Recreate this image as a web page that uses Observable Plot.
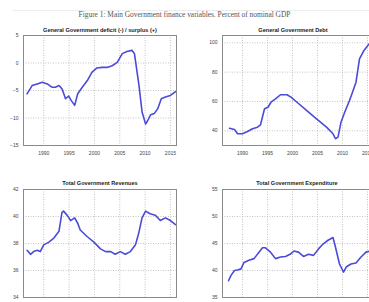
<!DOCTYPE html>
<html><head><meta charset="utf-8">
<script src="https://cdn.jsdelivr.net/npm/d3@7"></script>
<script src="https://cdn.jsdelivr.net/npm/@observablehq/plot@0.6"></script>
<style>
html,body{margin:0;padding:0;background:#fff;width:369px;height:302px;overflow:hidden;position:relative}
.panel{position:absolute}
.panel svg{max-width:none !important}
.ptitle{position:absolute;font:bold 5.6px "Liberation Sans",Arial,sans-serif;color:#222;white-space:nowrap;transform:translate(-50%,-50%)}
#title{position:absolute;top:10px;left:0;width:369px;text-align:center;font:7.4px "Liberation Serif",serif;color:#555;white-space:nowrap}
#rule{position:absolute;top:10px;left:13px;width:356px;height:0;border-top:1px solid #ececec}
</style></head><body>
<div id="rule"></div>
<div id="title">Figure 1: Main Government finance variables. Percent of nominal GDP</div>
<script>
// ---- data ----
const xTicks = [1990, 1995, 2000, 2005, 2010, 2015];

const deficitYears = [1986.7,1987.7,1988.7,1989.7,1990.7,1991.6,1992.3,1993.0,1993.6,1994.3,1994.9,1995.4,1996.1,1996.7,1997.6,1998.6,1999.5,2000.5,2001.5,2002.5,2003.5,2004.5,2005.5,2006.4,2007.4,2007.9,2008.8,2009.4,2010.1,2010.5,2011.1,2011.8,2012.5,2013.2,2014.0,2015.0,2016.0];
const deficitValues = [-5.6,-4.1,-3.8,-3.5,-3.8,-4.4,-4.4,-4.1,-4.7,-6.5,-6.0,-6.8,-7.7,-5.6,-4.4,-3.2,-1.7,-0.9,-0.8,-0.8,-0.5,0.1,1.7,2.1,2.3,1.7,-4.1,-8.9,-11.1,-10.5,-9.4,-9.2,-8.3,-6.5,-6.2,-5.9,-5.2];
const deficitTicks = [-15, -10, -5, 0, 5];

const debtYears = [1987.4,1988.4,1989.0,1990.0,1991.0,1992.0,1993.0,1993.6,1993.9,1994.4,1995.1,1995.7,1996.6,1997.6,1998.9,1999.7,2000.9,2002.8,2004.8,2006.8,2008.1,2008.6,2009.1,2009.7,2010.4,2011.4,2012.0,2012.7,2013.4,2014.3,2015.3];
const debtValues = [41.8,40.9,38.0,38.0,39.5,41.4,42.5,44.1,48.2,55.0,56.1,59.5,61.8,64.6,64.6,63.0,59.5,53.9,48.2,42.5,38.0,34.6,35.7,45.9,52.3,60.7,66.3,73.2,89.1,94.8,99.3];
const debtTicks = [40, 60, 80, 100];

const revenueYears = [1986.7,1987.4,1988.0,1988.7,1989.3,1990.0,1991.0,1992.0,1993.0,1993.6,1993.9,1994.6,1995.3,1996.1,1996.7,1997.2,1998.6,1999.9,2001.2,2002.2,2003.2,2004.1,2005.1,2006.1,2007.1,2008.1,2008.7,2009.4,2010.1,2011.0,2012.0,2013.0,2014.0,2015.0,2016.0];
const revenueValues = [37.5,37.2,37.4,37.5,37.4,37.9,38.1,38.4,38.9,40.3,40.4,40.1,39.7,39.9,39.5,39.0,38.5,38.1,37.6,37.4,37.4,37.2,37.4,37.2,37.4,37.9,38.7,39.9,40.4,40.2,40.1,39.7,39.9,39.7,39.4];
const revenueTicks = [34, 36, 38, 40, 42];

const expenditureYears = [1987.2,1987.7,1988.4,1989.0,1989.7,1990.3,1991.3,1992.3,1993.3,1994.0,1994.6,1995.6,1996.6,1997.6,1998.6,1999.5,2000.3,2001.2,2002.2,2003.2,2004.2,2005.2,2006.1,2007.1,2008.1,2008.6,2009.4,2010.2,2010.8,2011.7,2012.7,2013.7,2014.7,2015.5];
const expenditureValues = [38.1,39.1,40.0,40.1,40.3,41.5,41.9,42.2,43.4,44.2,44.2,43.4,42.2,42.5,42.6,43.0,43.6,43.4,42.6,43.0,42.8,44.0,44.9,45.6,46.1,44.3,41.2,39.7,40.7,41.2,41.4,42.5,43.4,43.6];
const expenditureTicks = [35, 40, 45, 50, 55];

const titles = ["General Government deficit (-) / surplus (+)", "General Government Debt", "Total Government Revenues", "Total Government Expenditure"];

// ---- drawing ----
function panel(o) {
  const data = o.years.map((t, i) => ({t, v: o.values[i]}));
  const grid = {stroke: "#c4c4c4", strokeOpacity: 1, strokeDasharray: "1,1.5"};
  const marks = [
    Plot.gridX(xTicks, grid),
    Plot.gridY(o.yTicks, grid),
    Plot.axisY(o.yTicks, {tickSize: 0, tickPadding: 5, label: null}),
    Plot.frame({stroke: "#8a8a8a"}),
    Plot.line(data, {x: "t", y: "v", stroke: "#4b4bd8", strokeWidth: 1.6})
  ];
  if (o.showX) marks.push(Plot.axisX(xTicks, {tickSize: 0, tickPadding: 6, tickFormat: d3.format("d"), label: null}));
  const chart = Plot.plot({
    width: o.width, height: o.height,
    marginLeft: o.ml, marginRight: o.mr, marginTop: o.mt, marginBottom: o.mb,
    style: {fontFamily: "'Liberation Sans', Arial, sans-serif", fontSize: "5px", color: "#444", background: "transparent", overflow: "visible", maxWidth: "none"},
    x: {domain: [1986, 2016.2], axis: o.showX ? undefined : null},
    y: {domain: o.yDomain},
    marks
  });
  const div = document.createElement("div");
  div.className = "panel";
  div.style.left = o.left + "px";
  div.style.top = o.top + "px";
  div.style.width = o.width + "px";
  div.style.height = o.height + "px";
  div.appendChild(chart);
  document.body.appendChild(div);
  const t = document.createElement("div");
  t.className = "ptitle";
  t.textContent = o.title;
  t.style.left = o.tx + "px";
  t.style.top = o.ty + "px";
  document.body.appendChild(t);
}

panel({left: 0, top: 20, width: 185, height: 140, ml: 23, mr: 9, mt: 15, mb: 15, showX: true,
  yDomain: [-15, 5], yTicks: deficitTicks, years: deficitYears, values: deficitValues,
  title: titles[0], tx: 100, ty: 30});
panel({left: 185, top: 20, width: 200, height: 140, ml: 37, mr: 12, mt: 15, mb: 15, showX: true,
  yDomain: [30, 105], yTicks: debtTicks, years: debtYears, values: debtValues,
  title: titles[1], tx: 293, ty: 30});
panel({left: 0, top: 175, width: 185, height: 140, ml: 23, mr: 9, mt: 14, mb: 18, showX: false,
  yDomain: [34, 42], yTicks: revenueTicks, years: revenueYears, values: revenueValues,
  title: titles[2], tx: 100, ty: 183});
panel({left: 185, top: 175, width: 200, height: 140, ml: 37, mr: 12, mt: 14, mb: 18, showX: false,
  yDomain: [35, 55], yTicks: expenditureTicks, years: expenditureYears, values: expenditureValues,
  title: titles[3], tx: 297, ty: 183});
</script>
</body></html>
